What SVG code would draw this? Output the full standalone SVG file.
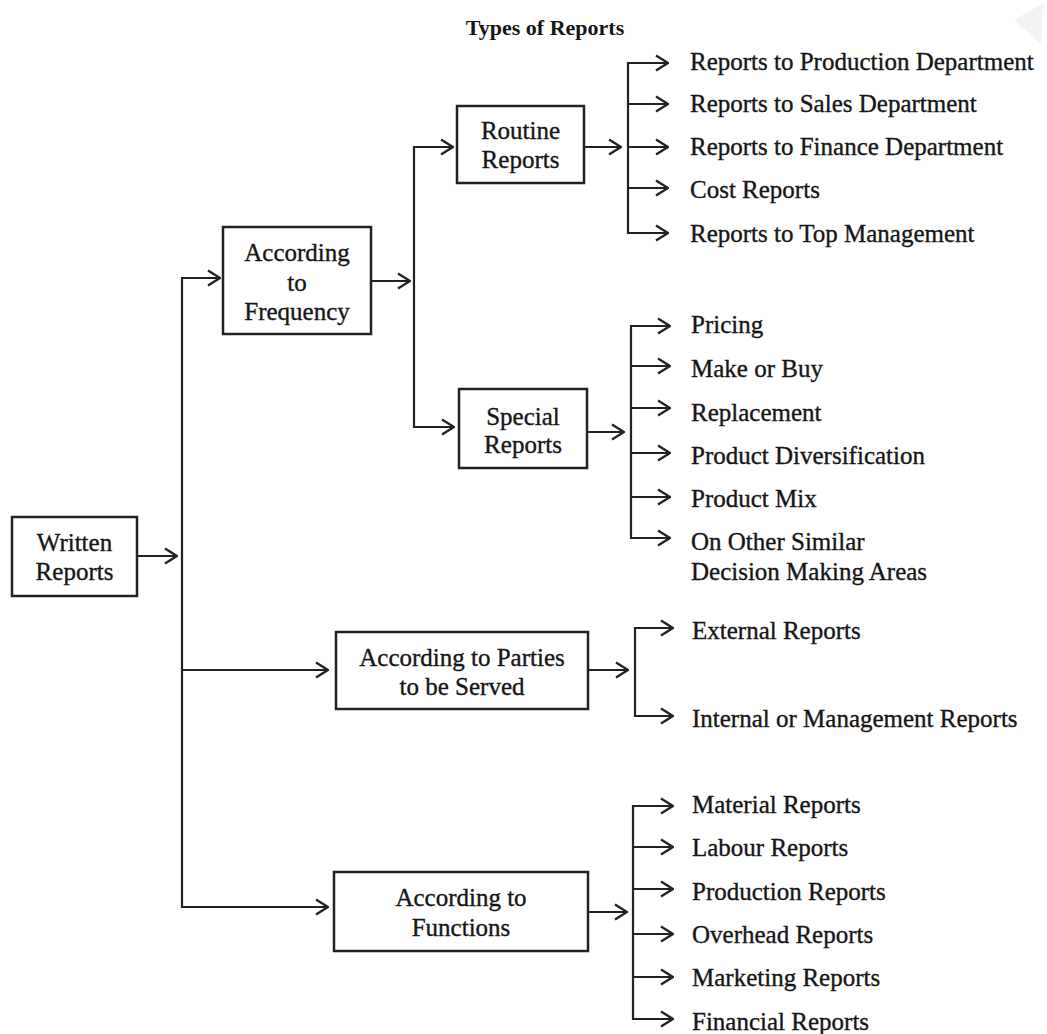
<svg xmlns="http://www.w3.org/2000/svg" width="1047" height="1034" viewBox="0 0 1047 1034">
<style>
  .box { fill: #ffffff; stroke: #222; stroke-width: 2.5; }
  .ln { fill: none; stroke: #222; stroke-width: 2.2; }
  .arr { fill: none; stroke: #222; stroke-width: 2.2; marker-end: url(#ah); }
  .t { font-family: "Liberation Serif", "Times New Roman", serif; font-size: 25px; fill: #161616; stroke: #161616; stroke-width: 0.35; }
  .c { text-anchor: middle; }
  .title { font-family: "Liberation Serif", "Times New Roman", serif; font-size: 22px; font-weight: bold; fill: #161616; text-anchor: middle; }
</style>
<defs>
  <marker id="ah" viewBox="0 0 14 18" refX="13" refY="9" markerWidth="14" markerHeight="18" markerUnits="userSpaceOnUse" orient="auto">
    <path d="M1,1.5 L13,9 L1,16.5" fill="none" stroke="#222" stroke-width="2.4"/>
  </marker>
</defs>
<rect width="1047" height="1034" fill="#ffffff"/>
<polygon points="1014,20 1044,3 1041,44" fill="#f3f3f3"/>
<text class="title" x="545" y="35">Types of Reports</text>

<g id="connectors">
  <line class="arr" x1="137" y1="556" x2="177" y2="556"/>
  <line class="ln" x1="182" y1="277" x2="182" y2="908"/>
  <line class="arr" x1="181" y1="278" x2="220" y2="278"/>
  <line class="arr" x1="181" y1="670" x2="328" y2="670"/>
  <line class="arr" x1="181" y1="907" x2="328" y2="907"/>

  <line class="arr" x1="372" y1="281" x2="410" y2="281"/>
  <line class="ln" x1="414" y1="146" x2="414" y2="428"/>
  <line class="arr" x1="413" y1="147" x2="453" y2="147"/>
  <line class="arr" x1="413" y1="427" x2="454" y2="427"/>

  <line class="arr" x1="584" y1="147" x2="621" y2="147"/>
  <line class="ln" x1="628" y1="62" x2="628" y2="234"/>
  <line class="arr" x1="627" y1="63" x2="668" y2="63"/>
  <line class="arr" x1="627" y1="104" x2="668" y2="104"/>
  <line class="arr" x1="627" y1="147" x2="668" y2="147"/>
  <line class="arr" x1="627" y1="188" x2="668" y2="188"/>
  <line class="arr" x1="627" y1="233" x2="668" y2="233"/>

  <line class="arr" x1="587" y1="432" x2="624" y2="432"/>
  <line class="ln" x1="631" y1="325" x2="631" y2="539"/>
  <line class="arr" x1="630" y1="326" x2="670" y2="326"/>
  <line class="arr" x1="630" y1="366" x2="670" y2="366"/>
  <line class="arr" x1="630" y1="408" x2="670" y2="408"/>
  <line class="arr" x1="630" y1="453" x2="670" y2="453"/>
  <line class="arr" x1="630" y1="497" x2="670" y2="497"/>
  <line class="arr" x1="630" y1="538" x2="670" y2="538"/>

  <line class="arr" x1="588" y1="670" x2="628" y2="670"/>
  <line class="ln" x1="635" y1="627" x2="635" y2="717"/>
  <line class="arr" x1="634" y1="628" x2="673" y2="628"/>
  <line class="arr" x1="634" y1="716" x2="673" y2="716"/>

  <line class="arr" x1="588" y1="912" x2="627" y2="912"/>
  <line class="ln" x1="633" y1="805" x2="633" y2="1020"/>
  <line class="arr" x1="632" y1="806" x2="673" y2="806"/>
  <line class="arr" x1="632" y1="847" x2="673" y2="847"/>
  <line class="arr" x1="632" y1="889" x2="673" y2="889"/>
  <line class="arr" x1="632" y1="934" x2="673" y2="934"/>
  <line class="arr" x1="632" y1="977" x2="673" y2="977"/>
  <line class="arr" x1="632" y1="1019" x2="673" y2="1019"/>
</g>

<g id="written">
  <rect class="box" x="12" y="517" width="125" height="79"/>
  <text class="t c" x="74.5" y="551">Written</text>
  <text class="t c" x="74.5" y="580">Reports</text>
</g>
<g id="frequency">
  <rect class="box" x="223" y="227" width="148" height="107"/>
  <text class="t c" x="297" y="261">According</text>
  <text class="t c" x="297" y="291">to</text>
  <text class="t c" x="297" y="320">Frequency</text>
</g>
<g id="routine">
  <rect class="box" x="457" y="106" width="127" height="77"/>
  <text class="t c" x="520.5" y="139">Routine</text>
  <text class="t c" x="520.5" y="168">Reports</text>
</g>
<g id="special">
  <rect class="box" x="459" y="389" width="128" height="79"/>
  <text class="t c" x="523" y="425">Special</text>
  <text class="t c" x="523" y="453">Reports</text>
</g>
<g id="parties">
  <rect class="box" x="336" y="632" width="252" height="77"/>
  <text class="t c" x="462" y="666">According to Parties</text>
  <text class="t c" x="462" y="695">to be Served</text>
</g>
<g id="functions">
  <rect class="box" x="334" y="872" width="254" height="79"/>
  <text class="t c" x="461" y="906">According to</text>
  <text class="t c" x="461" y="936">Functions</text>
</g>

<g id="routine-items">
  <text class="t" x="690" y="70">Reports to Production Department</text>
  <text class="t" x="690" y="112">Reports to Sales Department</text>
  <text class="t" x="690" y="155">Reports to Finance Department</text>
  <text class="t" x="690" y="198">Cost Reports</text>
  <text class="t" x="690" y="242">Reports to Top Management</text>
</g>
<g id="special-items">
  <text class="t" x="691" y="333">Pricing</text>
  <text class="t" x="691" y="377">Make or Buy</text>
  <text class="t" x="691" y="421">Replacement</text>
  <text class="t" x="691" y="464">Product Diversification</text>
  <text class="t" x="691" y="507">Product Mix</text>
  <text class="t" x="691" y="550">On Other Similar</text>
  <text class="t" x="691" y="580">Decision Making Areas</text>
</g>
<g id="parties-items">
  <text class="t" x="692" y="639">External Reports</text>
  <text class="t" x="692" y="727">Internal or Management Reports</text>
</g>
<g id="functions-items">
  <text class="t" x="692" y="813">Material Reports</text>
  <text class="t" x="692" y="856">Labour Reports</text>
  <text class="t" x="692" y="900">Production Reports</text>
  <text class="t" x="692" y="943">Overhead Reports</text>
  <text class="t" x="692" y="986">Marketing Reports</text>
  <text class="t" x="692" y="1030">Financial Reports</text>
</g>
</svg>
